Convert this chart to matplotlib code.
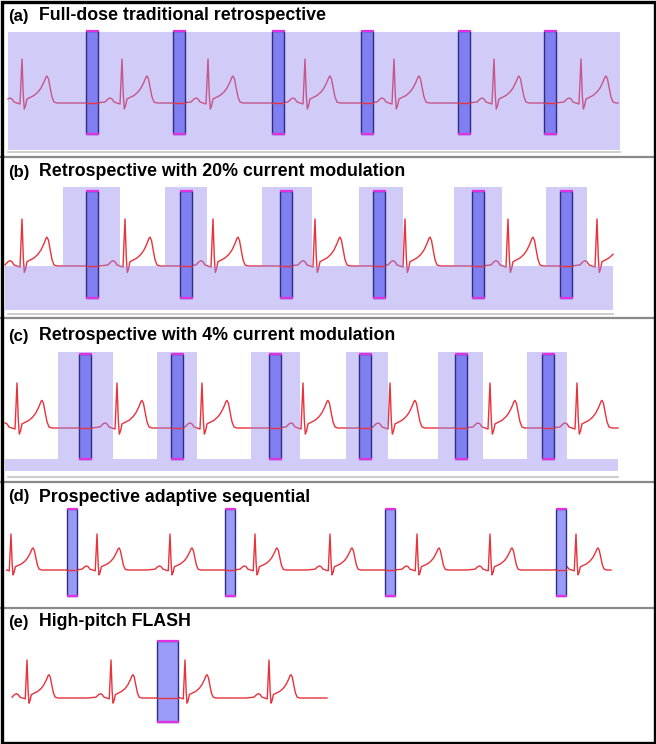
import matplotlib.pyplot as plt
import matplotlib.patches as mpatches

# panel titles
letters = ["(a)", "(b)", "(c)", "(d)", "(e)"]
titles = ["Full-dose traditional retrospective",
          "Retrospective with 20% current modulation",
          "Retrospective with 4% current modulation",
          "Prospective adaptive sequential",
          "High-pitch FLASH"]

# one heart beat (a): offset from R peak, height above baseline
beat_dx = [-26, -17, -14, -12, -10, -8, -5, -2, 0, 1.3, 2.3, 3.5, 5, 8, 12,
           16, 19, 22, 24, 25, 26.5, 28, 30, 32, 35]
beat_dy = [0, 1, 4, 5, 4, 1, 0, -1, 44, 8, -6, -3, 4, 5.5, 7.5,
           11, 15, 21, 26, 27, 24, 16, 6, 1, 0]

# R peak positions per trace
r_a = [22, 122, 208, 305, 394, 494, 581]
r_b = [22, 125, 213, 315, 405, 508, 597]
r_c = [17, 117, 202, 303, 390, 490, 577]
r_d = [11, 97, 170, 255, 330, 417, 490, 576]
r_e = [27, 111, 185, 269]

# reconstruction windows (centres)
win_a = [92, 179, 278, 367, 464, 550]
win_b = [92, 186, 286, 379, 478, 566]
win_c = [85, 177, 275, 365, 461, 548]
win_d = [72, 230, 390, 561]
win_e = [167.5]

# full tube current pulses (start, end)
pulse_b = [(63, 120), (165, 207), (262, 312), (359, 403), (454, 502), (546, 587)]
pulse_c = [(58, 113), (157, 197), (251, 300), (346, 388), (438, 483), (527, 567)]

RED = '#e8323c'
LAV = '#9687f0'
BAR = '#7f7ff2'
BAR_LIGHT = '#9a9af8'
EDGE = '#2e2e80'
CAP = '#e030e0'


def ecg(ax, peaks, x0, x1, base, amp, xs_k=1.0):
    k = amp / 44.0
    xs, ys = [], []
    if peaks[0] + beat_dx[0] * xs_k > x0:
        xs.append(x0); ys.append(base)
    for r in peaks:
        for dx, dy in zip(beat_dx, beat_dy):
            x = r + dx * xs_k
            if x0 <= x <= x1:
                xs.append(x); ys.append(base - dy * k)
    if peaks[-1] + beat_dx[-1] * xs_k < x1:
        xs.append(x1); ys.append(base)
    ax.plot(xs, ys, color=RED, lw=1.0, zorder=2, solid_joinstyle='round')


def windows(ax, centres, y0, y1, w, base, fill):
    for c in centres:
        ax.add_patch(mpatches.Rectangle((c - w / 2, y0), w, y1 - y0, facecolor=fill,
                                        edgecolor=EDGE, lw=1.0, zorder=4))
        for yy in (y0, y1):
            ax.plot([c - w / 2 - 0.5, c + w / 2 + 0.5], [yy, yy], color=CAP,
                    lw=1.6, zorder=5, solid_capstyle='butt')
        ax.plot([c - w / 2, c + w / 2], [base, base], color=RED, lw=1.0, zorder=5)


def modulation(ax, pulses, x0, x1, top, band_top, band_bot):
    ax.add_patch(mpatches.Rectangle((x0, band_top), x1 - x0, band_bot - band_top,
                                    facecolor=LAV, alpha=0.43, lw=0, zorder=3))
    for a, b in pulses:
        ax.add_patch(mpatches.Rectangle((a, top), b - a, band_top - top,
                                        facecolor=LAV, alpha=0.43, lw=0, zorder=3))


fig = plt.figure(figsize=(6.56, 7.44), dpi=100)
ax = fig.add_axes([0, 0, 1, 1])
ax.set_xlim(0, 656)
ax.set_ylim(744, 0)
ax.axis('off')

# (a) full dose everywhere
ecg(ax, r_a, 8, 618, 103, 44)
ax.add_patch(mpatches.Rectangle((8, 32), 612, 118, facecolor=LAV, alpha=0.43,
                                lw=0, zorder=3))
windows(ax, win_a, 31, 134, 12, 103, BAR)

# (b) 20% current outside the pulse
ecg(ax, r_b, 5, 613, 266, 47)
modulation(ax, pulse_b, 5, 613, 187, 266, 310)
windows(ax, win_b, 191, 298, 12, 266, BAR)

# (c) 4% current outside the pulse
ecg(ax, r_c, 5, 618, 428, 45)
modulation(ax, pulse_c, 5, 618, 352, 459, 471)
windows(ax, win_c, 354, 459, 12, 428, BAR)

# (d) sequential
ecg(ax, r_d, 5, 611, 570, 36, 0.88)
windows(ax, win_d, 509, 596, 10, 570, BAR_LIGHT)

# (e) flash
ecg(ax, r_e, 8, 327, 698, 38, 0.88)
windows(ax, win_e, 641, 722, 21, 698, BAR_LIGHT)

# time axes under the traces
for y, x1 in zip([152, 314, 477], [620, 613, 618]):
    ax.plot([8, x1], [y, y], color='#c4c4c4', lw=1.2, zorder=1)

# panel separators
for y in [157, 318, 482, 608]:
    ax.plot([0, 656], [y, y], color='#8a8a8a', lw=1.6, zorder=6)

title_y = [16, 172, 336, 497, 622]
for lt, t, y in zip(letters, titles, title_y):
    ax.text(8, y, lt, fontsize=12, fontweight='bold', family='Liberation Sans',
            va='center', ha='left')
    ax.text(39, y, t, fontsize=12.8, fontweight='bold', family='Liberation Sans',
            va='center', ha='left')

ax.add_patch(mpatches.Rectangle((1.5, 1.5), 653, 741, fill=False, edgecolor='black',
                                lw=2.4, zorder=10))

fig.savefig('out.png', dpi=100)
